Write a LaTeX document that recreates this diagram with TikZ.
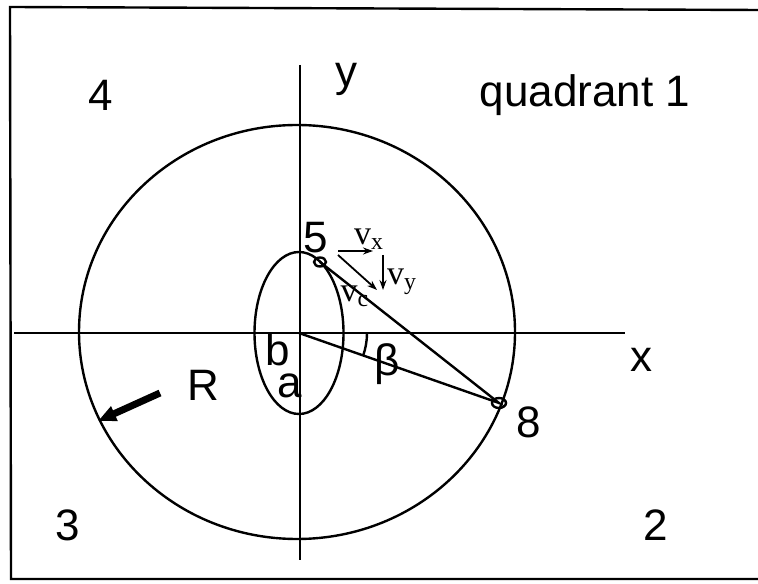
\documentclass[tikz,border=0pt]{standalone}
\usepackage{fontspec}
\setmainfont{Liberation Sans}
\newfontfamily\vfont{Liberation Serif}
\usetikzlibrary{arrows.meta}

\begin{document}
\begin{tikzpicture}[x=0.5pt, y=0.5pt, line width=1.2pt,
  lbl/.style={font=\fontsize{22}{24}\selectfont, inner sep=0pt},
  vlbl/.style={font=\vfont\fontsize{17}{19}\selectfont, inner sep=0pt},
  vec/.style={-{Stealth[length=5pt, width=3.5pt]}, line width=0.9pt}]
\useasboundingbox (0,0) rectangle (758,583);
\draw (758,573) -- (10,576) -- (11,4) -- (758,4);

\coordinate (O) at (299,250);
\coordinate (p5) at (320,321);
\coordinate (p8) at (499,180);
\coordinate (xl) at (14,250);
\coordinate (xr) at (625,250);
\coordinate (yt) at (300,518);
\coordinate (yb) at (300,23);
\draw (xl) -- (xr);
\draw (yt) -- (yb);
\draw (297,251) ellipse[x radius=218, y radius=207];
\draw (O) ellipse[x radius=44.5, y radius=81];
\draw (p5) -- (p8) -- (O);
\draw (p5) ellipse[x radius=6, y radius=4.5];
\draw (p8) ellipse[x radius=7, y radius=5];
\draw (O) ++(68,0) arc[start angle=0, end angle=-19.4, radius=68];

\coordinate (vx0) at (338,332);
\coordinate (vx1) at (373,332);
\coordinate (vy0) at (383,328);
\coordinate (vy1) at (383,293);
\coordinate (vc0) at (338,328);
\coordinate (vc1) at (377,293);
\draw[vec] (vx0) -- (vx1);
\draw[vec] (vy0) -- (vy1);
\draw[vec] (vc0) -- (vc1);
\node[vlbl] (vxl) at (369,344) {v\textsubscript{x}};
\node[vlbl] (vyl) at (402,301) {v\textsubscript{y}};
\node[vlbl] (vcl) at (355,287) {v\textsubscript{c}};

\coordinate (r0) at (160,190);
\coordinate (r1) at (98,162);
\draw[-{Triangle[length=9pt, width=7.5pt]}, line width=3.5pt] (r0) -- (r1);

\node[lbl] (q4) at (101,488) {4};
\node[lbl] (q1) at (585,488) {quadrant 1};
\node[lbl] (q3) at (68,58) {3};
\node[lbl] (q2) at (656,58) {2};
\node[lbl] (ylab) at (346,504) {y};
\node[lbl] (xlab) at (641,223) {x};
\node[lbl] (n5) at (316,345) {5};
\node[lbl] (n8) at (529,161) {8};
\node[lbl] (blab) at (278,233) {b};
\node[lbl] (alab) at (290,197) {a};
\node[lbl] (beta) at (387,219) {β};
\node[lbl] (rlab) at (203,198) {R};
\end{tikzpicture}
\end{document}
